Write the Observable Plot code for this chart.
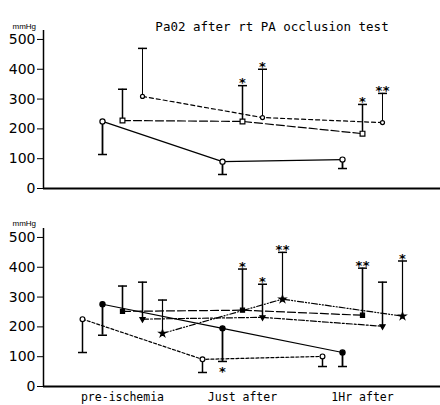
<!DOCTYPE html>
<html>
<head>
<meta charset="utf-8">
<script src="https://cdn.jsdelivr.net/npm/d3@7"></script>
<script src="https://cdn.jsdelivr.net/npm/@observablehq/plot@0.6"></script>
<style>
  html, body { margin: 0; padding: 0; background: white; }
  #chart { width: 440px; }
  #chart svg { display: block; }
</style>
</head>
<body>
<div id="chart"></div>
<script>
// ---------- data ----------
const categories = ["pre-ischemia", "Just after", "1Hr after"];
const yTicks = [0, 100, 200, 300, 400, 500];
const title = "Pa02 after rt PA occlusion test";
const unit = "mmHg";

// top panel
const topSolidMean = [225, 90, 97];
const topSolidErr  = [114, 47, 67];
const topSolidSig  = ["", "", ""];
const topSquareMean = [228, 225, 184];
const topSquareErr  = [333, 345, 282];
const topSquareSig  = ["", "*", "*"];
const topDashMean = [309, 238, 221];
const topDashErr  = [470, 400, 319];
const topDashSig  = ["", "*", "**"];

// bottom panel
const botOpenMean = [226, 91, 101];
const botOpenErr  = [114, 47, 67];
const botOpenSig  = ["", "", ""];
const botDotMean = [276, 195, 114];
const botDotErr  = [172, 84, 67];
const botDotSig  = ["", "*", ""];
const botSquareMean = [252, 256, 239];
const botSquareErr  = [337, 394, 397];
const botSquareSig  = ["", "*", "**"];
const botTriMean = [226, 232, 202];
const botTriErr  = [350, 343, 350];
const botTriSig  = ["", "*", ""];
const botStarMean = [178, 293, 236];
const botStarErr  = [290, 450, 421];
const botStarSig  = ["", "**", "*"];

// ---------- styles ----------
const capSymbol = {
  draw(ctx) { ctx.moveTo(-4.5, 0); ctx.lineTo(4.5, 0); }
};

const topSeries = [
  {mean: topSolidMean, err: topSolidErr, sig: topSolidSig, slot: -1, dash: null, symbol: "circle", fill: "white", r: 2.6, ew: 1.8},
  {mean: topSquareMean, err: topSquareErr, sig: topSquareSig, slot: 0, dash: "8,3", symbol: "square", fill: "white", r: 2.7, ew: 1.5},
  {mean: topDashMean, err: topDashErr, sig: topDashSig, slot: 1, dash: "4,3", symbol: "circle", fill: "white", r: 2, ew: 1}
];
const botSeries = [
  {mean: botOpenMean, err: botOpenErr, sig: botOpenSig, slot: -2, dash: "3,2", symbol: "circle", fill: "white", r: 2.4, ew: 1.5},
  {mean: botDotMean, err: botDotErr, sig: botDotSig, slot: -1, dash: null, symbol: "circle", fill: "black", r: 2.6, ew: 1.8},
  {mean: botSquareMean, err: botSquareErr, sig: botSquareSig, slot: 0, dash: "8,3", symbol: "square", fill: "black", r: 2.3, ew: 1.6},
  {mean: botTriMean, err: botTriErr, sig: botTriSig, slot: 1, dash: "6,2,2,2", symbol: "triangle", rotate: 180, fill: "black", r: 1.9, ew: 1.5},
  {mean: botStarMean, err: botStarErr, sig: botStarSig, slot: 2, dash: "6,2,1,2,1,2", symbol: "star", fill: "black", r: 2.2, ew: 1.2}
];

const xDomain = [-0.6583, 2.65];
const yDomain = [0, 530];

function seriesMarks(s) {
  const rows = categories.map((c, i) => ({x: i + s.slot / 6, y: s.mean[i], e: s.err[i], s: s.sig[i]}));
  const starStyle = {fontFamily: "DejaVu Sans", fontWeight: "bold", fontSize: 13, fill: "black"};
  const starMarks = [];
  for (const [cond, dy] of [[d => d.e >= d.y, -2.5], [d => d.e < d.y, 10.5]]) {
    const single = rows.filter(d => d.s.length === 1 && cond(d));
    const double = rows.filter(d => d.s.length === 2 && cond(d));
    starMarks.push(Plot.text(single, {x: "x", y: "e", text: () => "*", dy, ...starStyle}));
    starMarks.push(Plot.text(double, {x: "x", y: "e", text: () => "*", dy, dx: -3.6, ...starStyle}));
    starMarks.push(Plot.text(double, {x: "x", y: "e", text: () => "*", dy, dx: 3.6, ...starStyle}));
  }
  return [
    Plot.line(rows, {x: "x", y: "y", stroke: "black", strokeWidth: 1.2, strokeDasharray: s.dash ?? undefined}),
    Plot.ruleX(rows, {x: "x", y1: "y", y2: "e", stroke: "black", strokeWidth: s.ew}),
    Plot.dot(rows, {x: "x", y: "e", symbol: capSymbol, r: 4, stroke: "black", fill: "none", strokeWidth: 1.5}),
    Plot.dot(rows, {x: "x", y: "y", symbol: s.symbol, r: s.r, fill: s.fill, stroke: "black", strokeWidth: 1.2, rotate: s.rotate ?? 0}),
    ...starMarks
  ];
}

function panel(series, opts) {
  const marks = [
    Plot.ruleY([0], {stroke: "black", strokeWidth: 2}),
    Plot.ruleX([xDomain[0]], {stroke: "black", strokeWidth: 1.5}),
    Plot.axisY({ticks: yTicks, tickSize: 6, tickPadding: 2, label: null, fontSize: 14, fontFamily: "DejaVu Sans"}),
    Plot.text([unit], {frameAnchor: "top-left", dx: -31, dy: opts.unitDy, textAnchor: "start", fontSize: 8, fontFamily: "Liberation Sans"}),
    ...series.flatMap(seriesMarks)
  ];
  if (opts.title) {
    marks.push(Plot.text([title], {frameAnchor: "top", dx: 30, dy: -8, fontSize: 12.5, fontFamily: "DejaVu Sans Mono"}));
  }
  if (opts.xLabels) {
    marks.push(Plot.axisX({ticks: [0, 1, 2], tickFormat: i => categories[i], tickSize: 0, tickPadding: 6, label: null, fontSize: 11.5, fontFamily: "DejaVu Sans Mono"}));
  }
  return Plot.plot({
    width: 440,
    height: opts.height,
    marginLeft: 43,
    marginRight: 0,
    marginTop: opts.marginTop,
    marginBottom: opts.marginBottom,
    x: {domain: xDomain, axis: null},
    y: {domain: yDomain, axis: null},
    style: {fontFamily: "DejaVu Sans", background: "white", color: "black", overflow: "visible"},
    marks
  });
}

const chart = document.getElementById("chart");
chart.append(panel(topSeries, {height: 200, marginTop: 30, marginBottom: 12, title: true, unitDy: -7}));
chart.append(panel(botSeries, {height: 205, marginTop: 28, marginBottom: 19, xLabels: true, unitDy: -8}));
</script>
</body>
</html>
